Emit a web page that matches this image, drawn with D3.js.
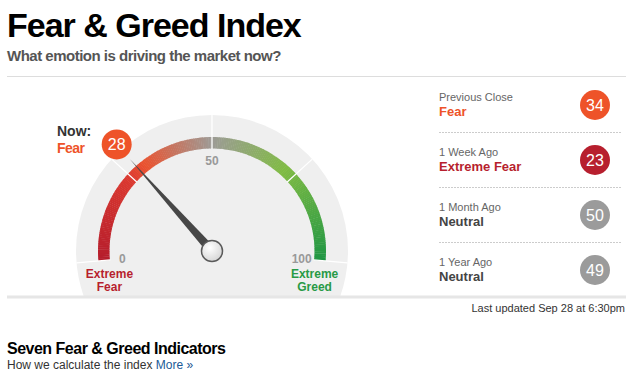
<!DOCTYPE html>
<html><head><meta charset="utf-8">
<script src="https://cdn.jsdelivr.net/npm/d3@7"></script>
<style>
body{margin:0;background:#fff}
svg{display:block;font-family:"Liberation Sans",Arial,Helvetica,sans-serif}
</style>
</head><body><div id="chart"></div>
<script>
// ---- data ----
const currentValue = 28;
const currentRating = "Fear";
const gaugeTicks = [0, 50, 100];
const zoneBreaks = [0, 25, 50, 75, 100];
const endLabels = [["Extreme", "Fear"], ["Extreme", "Greed"]];
const historyLabels = ["Previous Close", "1 Week Ago", "1 Month Ago", "1 Year Ago"];
const historyValues = [34, 23, 50, 49];
const historyRatings = ["Fear", "Extreme Fear", "Neutral", "Neutral"];
const lastUpdated = "Last updated Sep 28 at 6:30pm";
const gradientStops = [0, 25, 30, 50, 72, 100];
const gradientColors = ["#b51d2c", "#dc3a30", "#ea5330", "#9d9b96", "#80bb44", "#1f9644"];
const ratingText = {"Extreme Fear": "#b71f2e", "Fear": "#ee5329", "Neutral": "#444444", "Greed": "#5fae3d", "Extreme Greed": "#289a46"};
const ratingFill = {"Extreme Fear": "#b71f2e", "Fear": "#ee5329", "Neutral": "#9b9b9b", "Greed": "#5fae3d", "Extreme Greed": "#289a46"};

// ---- layout ----
const W = 639, H = 378;
const cx = 212, cy = 251;
const R_DISK = 136, R_IN = 102.5, R_OUT = 114;

const svg = d3.select("#chart").append("svg").attr("width", W).attr("height", H);
const defs = svg.append("defs");

// header
svg.append("text").attr("x", 7).attr("y", 37).attr("font-size", 34).attr("font-weight", "bold")
  .attr("letter-spacing", -1).attr("fill", "#000").text("Fear & Greed Index");
svg.append("text").attr("x", 7).attr("y", 61).attr("font-size", 15).attr("font-weight", "bold")
  .attr("letter-spacing", -0.5).attr("fill", "#555").text("What emotion is driving the market now?");
svg.append("line").attr("x1", 7).attr("x2", 626).attr("y1", 76.5).attr("y2", 76.5)
  .attr("stroke", "#dddddd").attr("stroke-width", 1);

// ---- gauge ----
const angle = d3.scaleLinear().domain([0, 100]).range([-95 * Math.PI / 180, 95 * Math.PI / 180]);
const color = d3.scaleLinear().domain(gradientStops).range(gradientColors).interpolate(d3.interpolateRgb);
const polar = (r, a) => [cx + r * Math.sin(a), cy - r * Math.cos(a)];

defs.append("clipPath").attr("id", "diskClip").append("rect")
  .attr("x", 0).attr("y", 0).attr("width", W).attr("height", 296);

const g = svg.append("g");
g.append("g").attr("clip-path", "url(#diskClip)")
  .append("circle").attr("cx", cx).attr("cy", cy).attr("r", R_DISK).attr("fill", "#efefef");

const steps = d3.range(0, 100, 0.5);
const arcGen = d3.arc().innerRadius(R_IN).outerRadius(R_OUT);
g.append("g").attr("transform", `translate(${cx},${cy})`)
  .selectAll("path").data(steps).join("path")
  .attr("d", v => arcGen({startAngle: angle(v), endAngle: Math.min(angle(v + 0.5) + 0.004, angle(100))}))
  .attr("fill", v => color(v + 0.25));

g.selectAll("line.div").data(zoneBreaks).join("line").attr("class", "div")
  .attr("x1", v => polar(R_IN - 0.5, angle(v))[0]).attr("y1", v => polar(R_IN - 0.5, angle(v))[1])
  .attr("x2", v => polar(R_DISK, angle(v))[0]).attr("y2", v => polar(R_DISK, angle(v))[1])
  .attr("stroke", "#fff").attr("stroke-width", 1.3);

g.selectAll("text.tick").data(gaugeTicks).join("text").attr("class", "tick")
  .attr("x", v => polar(90, angle(v))[0]).attr("y", v => polar(90, angle(v))[1])
  .attr("dy", "0.35em").attr("text-anchor", "middle")
  .attr("font-size", 12).attr("font-weight", "bold").attr("fill", "#999").text(v => v);

const endVals = [0, 100];
const endCols = ["#b71f2e", "#289a46"];
endLabels.forEach((lines, i) => {
  const x = polar(103, angle(endVals[i]))[0];
  const t = g.append("text").attr("text-anchor", "middle").attr("font-size", 12)
    .attr("font-weight", "bold").attr("fill", endCols[i]);
  lines.forEach((s, j) => t.append("tspan").attr("x", x).attr("y", 278 + j * 12.5).text(s));
});

// needle
const a = angle(currentValue);
const tip = polar(123, a);
const b1 = polar(4.5, a - Math.PI / 2), b2 = polar(4.5, a + Math.PI / 2);
g.append("path").attr("d", `M${b1[0]},${b1[1]}L${tip[0]},${tip[1]}L${b2[0]},${b2[1]}Z`).attr("fill", "#474747");

const rg = defs.append("radialGradient").attr("id", "hubGrad").attr("cx", "40%").attr("cy", "35%").attr("r", "70%");
rg.append("stop").attr("offset", "0%").attr("stop-color", "#ffffff");
rg.append("stop").attr("offset", "100%").attr("stop-color", "#d4d4d4");
g.append("circle").attr("cx", cx).attr("cy", cy).attr("r", 10.5)
  .attr("fill", "url(#hubGrad)").attr("stroke", "#5a5a5a").attr("stroke-width", 1.5);

// current badge
const bp = polar(143, a);
g.append("circle").attr("cx", bp[0]).attr("cy", bp[1]).attr("r", 15).attr("fill", ratingFill[currentRating]);
g.append("text").attr("x", bp[0]).attr("y", bp[1]).attr("dy", "0.36em").attr("text-anchor", "middle")
  .attr("font-size", 16).attr("fill", "#fff").text(currentValue);
g.append("text").attr("x", 57).attr("y", 136).attr("font-size", 14).attr("font-weight", "bold")
  .attr("fill", "#333").text("Now:");
g.append("text").attr("x", 57).attr("y", 153).attr("font-size", 14).attr("font-weight", "bold")
  .attr("letter-spacing", -0.5).attr("fill", ratingText[currentRating]).text(currentRating);

// ---- history panel ----
const rowY = d3.scaleLinear().domain([0, 1]).range([0, 55]);
const rows = svg.append("g").selectAll("g").data(historyLabels).join("g")
  .attr("transform", (d, i) => `translate(0,${rowY(i)})`);
rows.append("text").attr("x", 439).attr("y", 101).attr("font-size", 11).attr("fill", "#666").text(d => d);
rows.append("text").attr("x", 439).attr("y", 116).attr("font-size", 13).attr("font-weight", "bold")
  .attr("fill", (d, i) => ratingText[historyRatings[i]]).text((d, i) => historyRatings[i]);
rows.append("circle").attr("cx", 595).attr("cy", 105).attr("r", 15)
  .attr("fill", (d, i) => ratingFill[historyRatings[i]]);
rows.append("text").attr("x", 595).attr("y", 105).attr("dy", "0.36em").attr("text-anchor", "middle")
  .attr("font-size", 16).attr("fill", "#fff").text((d, i) => historyValues[i]);
rows.filter((d, i) => i < historyLabels.length - 1).append("line")
  .attr("x1", 439).attr("x2", 621).attr("y1", 132.5).attr("y2", 132.5)
  .attr("stroke", "#cccccc").attr("stroke-dasharray", "2,1");

svg.append("line").attr("x1", 7).attr("x2", 626).attr("y1", 297).attr("y2", 297)
  .attr("stroke", "#e6e6e6").attr("stroke-width", 3);
svg.append("text").attr("x", 625).attr("y", 312).attr("text-anchor", "end").attr("font-size", 11)
  .attr("fill", "#333").text(lastUpdated);

// ---- footer ----
svg.append("text").attr("x", 7).attr("y", 354).attr("font-size", 16).attr("font-weight", "bold")
  .attr("letter-spacing", -0.5).attr("fill", "#000").text("Seven Fear & Greed Indicators");
const ft = svg.append("text").attr("x", 7).attr("y", 369).attr("font-size", 12).attr("fill", "#333");
ft.append("tspan").text("How we calculate the index ");
ft.append("tspan").attr("fill", "#1b5a96").text("More »");
</script>
</body></html>
